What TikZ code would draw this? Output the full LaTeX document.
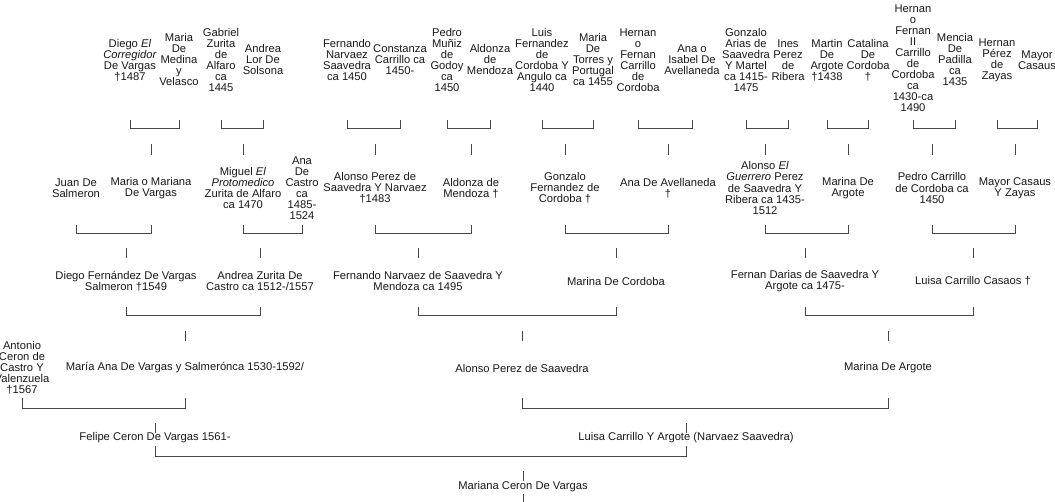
\documentclass[tikz,border=0pt]{standalone}
\usepackage{fontspec}
\setmainfont{Liberation Sans}
\newcommand{\fcouple}[7]{%
  \draw[link] (#1 |- 0,#3) -- (#1 |- 0,#4) -- (#2 |- 0,#4) -- (#2 |- 0,#3);
  \draw[link] (#5 |- 0,#6) -- (#5 |- 0,#7);
}
\begin{document}
\begin{tikzpicture}[x=1pt,y=-1pt,
  nm/.style={align=center, inner sep=0pt, font=\fontsize{11.2}{11}\selectfont, text=black!90},
  link/.style={draw=black!72, line width=0.9pt}]
\useasboundingbox[fill=white] (0,0) rectangle (1055,502);
% generation 1
\node[nm] (a1) at (130,60) {Diego \textit{El}\\\textit{Corregidor}\\De Vargas\\†1487};
\node[nm] (a2) at (179,60) {Maria\\De\\Medina\\y\\Velasco};
\node[nm] (a3) at (221,60) {Gabriel\\Zurita\\de\\Alfaro\\ca\\1445};
\node[nm] (a4) at (263,60) {Andrea\\Lor De\\Solsona};
\node[nm] (a5) at (347,60) {Fernando\\Narvaez\\Saavedra\\ca 1450};
\node[nm] (a6) at (400,60) {Constanza\\Carrillo ca\\1450-};
\node[nm] (a7) at (447,60) {Pedro\\Muñiz\\de\\Godoy\\ca\\1450};
\node[nm] (a8) at (490,60) {Aldonza\\de\\Mendoza};
\node[nm] (a9) at (542,60) {Luis\\Fernandez\\de\\Cordoba Y\\Angulo ca\\1440};
\node[nm] (a10) at (593,60) {Maria\\De\\Torres y\\Portugal\\ca 1455};
\node[nm] (a11) at (638,60) {Hernan\\o\\Fernan\\Carrillo\\de\\Cordoba};
\node[nm] (a12) at (692,60) {Ana o\\Isabel De\\Avellaneda};
\node[nm] (a13) at (746,60) {Gonzalo\\Arias de\\Saavedra\\Y Martel\\ca 1415-\\1475};
\node[nm] (a14) at (788,60) {Ines\\Perez\\de\\Ribera};
\node[nm] (a15) at (827,60) {Martin\\De\\Argote\\†1438};
\node[nm] (a16) at (868,60) {Catalina\\De\\Cordoba\\†};
\node[nm] (a17) at (913,58) {Hernan\\o\\Fernan\\II\\Carrillo\\de\\Cordoba\\ca\\1430-ca\\1490};
\node[nm] (a18) at (955,60) {Mencia\\De\\Padilla\\ca\\1435};
\node[nm] (a19) at (997,60) {Hernan\\Pérez\\de\\Zayas};
\node[nm] (a20) at (1037,60) {Mayor\\Casaus};
% generation 2
\node[nm] (b1) at (76,188) {Juan De\\Salmeron};
\node[nm] (b2) at (151,188) {Maria o Mariana\\De Vargas};
\node[nm] (b3) at (243,188) {Miguel \textit{El}\\\textit{Protomedico}\\Zurita de Alfaro\\ca 1470};
\node[nm] (b4) at (302,188) {Ana\\De\\Castro\\ca\\1485-\\1524};
\node[nm] (b5) at (375,188) {Alonso Perez de\\Saavedra Y Narvaez\\†1483};
\node[nm] (b6) at (471,188) {Aldonza de\\Mendoza †};
\node[nm] (b7) at (565,188) {Gonzalo\\Fernandez de\\Cordoba †};
\node[nm] (b8) at (668,188) {Ana De Avellaneda\\†};
\node[nm] (b9) at (765,188) {Alonso \textit{El}\\\textit{Guerrero} Perez\\de Saavedra Y\\Ribera ca 1435-\\1512};
\node[nm] (b10) at (848,188) {Marina De\\Argote};
\node[nm] (b11) at (932,188) {Pedro Carrillo\\de Cordoba ca\\1450};
\node[nm] (b12) at (1015,188) {Mayor Casaus\\Y Zayas};
% generation 3
\node[nm] (c1) at (126,281) {Diego Fernández De Vargas\\Salmeron †1549};
\node[nm] (c2) at (260,281) {Andrea Zurita De\\Castro ca 1512-/1557};
\node[nm] (c3) at (418,281) {Fernando Narvaez de Saavedra Y\\Mendoza ca 1495};
\node[nm] (c4) at (616,281) {Marina De Cordoba};
\node[nm] (c5) at (805,281) {Fernan Darias de Saavedra Y\\Argote ca 1475-};
\node[nm] (c6) at (973,281) {Luisa Carrillo Casaos †};
% generation 4
\node[nm] (d1) at (22,368) {Antonio\\Ceron de\\Castro Y\\Valenzuela\\†1567};
\node[nm] (d2) at (185,368) {María Ana De Vargas y Salmerónca 1530-1592/};
\node[nm] (d3) at (522,368) {Alonso Perez de Saavedra};
\node[nm] (d4) at (888,368) {Marina De Argote};
% generation 5
\node[nm] (e1) at (155,438) {Felipe Ceron De Vargas 1561-};
\node[nm] (e2) at (686,438) {Luisa Carrillo Y Argote (Narvaez Saavedra)};
% generation 6
\node[nm] (f1) at (523,487) {Mariana Ceron De Vargas};
\coordinate (fend) at (523,502);
% connectors
\fcouple{a1}{a2}{120}{128}{b2}{144}{155}
\fcouple{a3}{a4}{120}{128}{b3}{144}{155}
\fcouple{a5}{a6}{120}{128}{b5}{144}{155}
\fcouple{a7}{a8}{120}{128}{b6}{144}{155}
\fcouple{a9}{a10}{120}{128}{b7}{144}{155}
\fcouple{a11}{a12}{120}{128}{b8}{144}{155}
\fcouple{a13}{a14}{120}{128}{b9}{144}{155}
\fcouple{a15}{a16}{120}{128}{b10}{144}{155}
\fcouple{a17}{a18}{120}{128}{b11}{144}{155}
\fcouple{a19}{a20}{120}{128}{b12}{144}{155}
\fcouple{b1}{b2}{225}{233}{c1}{248}{258}
\fcouple{b3}{b4}{225}{233}{c2}{248}{258}
\fcouple{b5}{b6}{225}{233}{c3}{248}{258}
\fcouple{b7}{b8}{225}{233}{c4}{248}{258}
\fcouple{b9}{b10}{225}{233}{c5}{248}{258}
\fcouple{b11}{b12}{225}{233}{c6}{248}{258}
\fcouple{c1}{c2}{307}{315}{d2}{331}{341}
\fcouple{c3}{c4}{307}{315}{d3}{331}{341}
\fcouple{c5}{c6}{307}{315}{d4}{331}{341}
\fcouple{d1}{d2}{398}{408}{e1}{423}{433}
\fcouple{d3}{d4}{398}{408}{e2}{423}{433}
\fcouple{e1}{e2}{446}{456}{f1}{471}{481}
\draw[link] (f1 |- 0,494) -- (fend);
\end{tikzpicture}
\end{document}
